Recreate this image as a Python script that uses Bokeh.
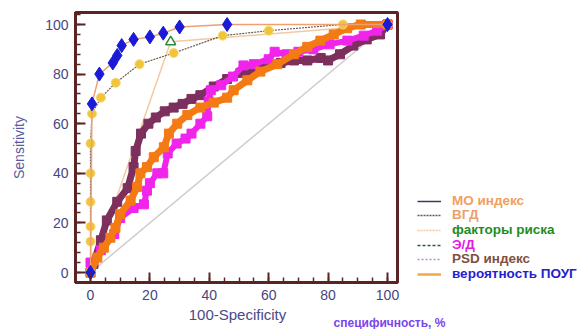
import math
from bokeh.plotting import figure
from bokeh.models import (Label, Legend, LegendItem, Range1d, SingleIntervalTicker, LinearAxis)
from bokeh.core.properties import value
from bokeh.embed import file_html
from bokeh.resources import INLINE

# ---- data ----
blue_x = [0, 0.5, 3, 7.5, 9, 10.5, 14.5, 20, 24.5, 30, 46, 100]
blue_y = [0, 68, 80, 84.5, 87.5, 91.5, 94, 95, 96.5, 99, 100, 100]

yellow_x = [0, 0, 0, 0, 0, 0, 0.5, 3.5, 8.5, 16.5, 28, 44.5, 60, 85, 100]
yellow_y = [0, 12.5, 18.5, 28.5, 40, 52, 64, 70.5, 76.5, 84, 88.5, 95.5, 97.5, 100, 100]

risk_x = [0, 27, 100]
risk_y = [0, 93, 100]

maroon_x = [0, 1, 3.5, 5.5, 9, 12.5, 14.5, 15.2, 17, 19.5, 22, 25, 28, 31, 34, 37,
            41.5, 46, 50.5, 55, 59.5, 64, 68.5, 73, 77.5, 80, 84, 88.5, 93, 97.5, 100]
maroon_y = [0, 3.5, 13, 21, 28.5, 34, 42.5, 49, 56, 60, 62.5, 65, 66.5, 68, 70, 71.5,
            75, 78, 80.5, 81, 84, 84.5, 85.5, 85.5, 86.5, 85.5, 88, 91.5, 94, 96, 100]

magenta_x = [0, 3.5, 8, 10, 14.5, 18, 19, 20, 22.5, 24.5, 26, 29, 32, 34, 37, 39.3, 39.8,
             40.5, 44, 48, 51.5, 55, 60, 62, 66, 70, 75, 80.5, 86.5, 92, 96.5, 100]
magenta_y = [4, 9, 15.5, 22, 26, 27.5, 33, 36, 40, 40, 48, 52, 54, 56, 60, 63, 69,
             73.5, 75.5, 79, 83.5, 84, 86, 89, 88, 89, 90, 92, 93.5, 95.5, 97.5, 100]

orange_x = [0, 2.3, 4.5, 6.7, 8.4, 10, 13.5, 15.7, 16.8, 19, 21.3, 24.7, 26.4, 29.2, 32.6,
            37, 41.5, 46, 48.2, 52.8, 57.2, 62.9, 68.5, 73, 77.4, 81.9, 86.4, 91, 100]
orange_y = [0, 6, 10, 14, 18, 23.5, 29, 34.5, 40, 42.5, 46.5, 50.5, 56, 60, 63.5,
            66.5, 68.5, 70.5, 73.5, 77.5, 81, 84, 88, 91, 93.5, 96, 98.5, 100, 100]

diag_x = [0, 100]
diag_y = [0, 100]

legend_labels = ["МО индекс", "ВГД", "факторы риска", "Э/Д", "PSD индекс", "вероятность ПОУГ"]
legend_text_colors = ["#f0a060", "#eca070", "#1e8c1e", "#e020e0", "#805040", "#2222d0"]

x_label = "100-Specificity"
y_label = "Sensitivity"
note_label = "специфичность, %"

# ---- geometry of the page ----
W, H = 581, 329
# data -> pixel mapping: x 0..100 at px 90..387, y 0..100 at px 272..24
XPX0, XPX1 = 90.0, 387.0
YPX0, YPX1 = 272.0, 24.0
sx = (XPX1 - XPX0) / 100.0
sy = (YPX0 - YPX1) / 100.0
xr = Range1d(-XPX0 / sx, (W - XPX0) / sx)
yr = Range1d(-(H - YPX0) / sy, YPX0 / sy)
# plot box (frame of the chart)
BOX_L = (75 - XPX0) / sx
BOX_R = (397 - XPX0) / sx
BOX_T = (YPX0 - 12) / sy
BOX_B = (YPX0 - 282) / sy

FRAME = "#5a2424"
p = figure(width=W, height=H, x_range=xr, y_range=yr,
           x_axis_location=None, y_axis_location=None,
           min_border=0, min_border_left=0, min_border_right=0,
           min_border_top=0, min_border_bottom=0,
           output_backend="svg", toolbar_location=None)
p.background_fill_color = "white"
p.border_fill_color = "white"
p.outline_line_alpha = 0
p.xgrid.visible = False
p.ygrid.visible = False

xaxis = LinearAxis(ticker=SingleIntervalTicker(interval=20, num_minor_ticks=4),
                   fixed_location=BOX_B, bounds=(BOX_L, BOX_R))
yaxis = LinearAxis(ticker=SingleIntervalTicker(interval=20, num_minor_ticks=5),
                   fixed_location=BOX_L, bounds=(BOX_B, BOX_T))
for ax in (xaxis, yaxis):
    ax.axis_line_color = FRAME
    ax.axis_line_width = 3
    ax.major_tick_line_color = FRAME
    ax.minor_tick_line_color = FRAME
    ax.major_tick_line_width = 2
    ax.minor_tick_line_width = 1.5
    ax.major_tick_in = 10
    ax.major_tick_out = 0
    ax.minor_tick_in = 5
    ax.minor_tick_out = 0
    ax.major_label_text_font = "Liberation Sans"
    ax.major_label_text_font_size = "14px"
    ax.major_label_text_color = "#464680"
    ax.major_label_standoff = 7
p.add_layout(xaxis, "below")
p.add_layout(yaxis, "left")

# chart box
p.quad(left=[BOX_L], right=[BOX_R], bottom=[BOX_B], top=[BOX_T], fill_alpha=0,
       line_color=FRAME, line_width=3)

# chance diagonal
p.line(diag_x, diag_y, line_color="#d2cccc", line_width=1.5)

# risk factors (single point)
p.line(risk_x, risk_y, line_color="#f3c9a2", line_width=1.5)

# thick ROC curves
p.line(maroon_x, maroon_y, line_color="#7d2f5e", line_width=7)
p.scatter(maroon_x, maroon_y, marker="square", size=9, color="#7d2f5e")
p.line(magenta_x, magenta_y, line_color="#f024ea", line_width=6)
p.scatter(magenta_x, magenta_y, marker="square", size=9, color="#f024ea")
p.line(orange_x, orange_y, line_color="#f47a14", line_width=7)
p.scatter(orange_x, orange_y, marker="square", size=9, color="#f47a14")

# yellow curve
p.line(yellow_x, yellow_y, line_color="#6a5a50", line_width=1.2, line_dash="2 1")
p.scatter(yellow_x, yellow_y, marker="circle", size=9, fill_color="#f2c43a",
          line_color="#f6d870", line_width=1)

# blue curve
p.line(blue_x, blue_y, line_color="#f0a070", line_width=1.5)
p.scatter(blue_x, blue_y, marker="diamond", size=14, color="#1a1ad8")

# triangle
p.scatter([risk_x[1]], [risk_y[1]], marker="triangle", size=10, fill_color="white",
          line_color="#2a8a3a", line_width=1.5)

# ---- legend samples (one legend per entry for individual colours) ----
sample_styles = [
    dict(line_color="#3a3a60", line_width=1.5),
    dict(line_color="#585858", line_width=1.5, line_dash="2 1"),
    dict(line_color="#f0c8a0", line_width=1.5, line_dash="2 1"),
    dict(line_color="#206030", line_width=1.5, line_dash="3 2"),
    dict(line_color="#b888d8", line_width=1.5, line_dash="2 2"),
    dict(line_color="#f0a848", line_width=2.5),
]
# legend-only renderers sit outside the visible range
off_x = [xr.start - 20, xr.start - 10]
off_y = [yr.start - 20, yr.start - 10]
item_y = [201, 215, 230, 245, 259, 274]  # page centre of each entry
for lbl, col, st, yc in zip(legend_labels, legend_text_colors, sample_styles, item_y):
    r = p.line(off_x, off_y, **st)
    leg = Legend(items=[LegendItem(label=value(lbl), renderers=[r])],
                 location=(417, H - yc - 7),
                 padding=0, margin=0, spacing=0,
                 border_line_alpha=0, background_fill_alpha=0,
                 glyph_width=24, glyph_height=12, label_height=14,
                 label_standoff=11,
                 label_text_font="Liberation Sans",
                 label_text_font_size="13.5px", label_text_font_style="bold",
                 label_text_color=col)
    p.add_layout(leg, "center")

# ---- texts ----
p.add_layout(Label(x=(237 - XPX0) / sx, y=(YPX0 - 314) / sy, text=x_label,
                   text_align="center", text_baseline="middle",
                   text_font="Liberation Sans", text_font_size="15px",
                   text_color="#4a4a88"))
p.add_layout(Label(x=(18 - XPX0) / sx, y=(YPX0 - 147) / sy, text=y_label,
                   angle=math.pi / 2, text_align="center",
                   text_baseline="middle", text_font="Liberation Sans",
                   text_font_size="14px", text_color="#5a5aa0"))
p.add_layout(Label(x=(389 - XPX0) / sx, y=(YPX0 - 322) / sy, text=note_label,
                   text_align="center", text_baseline="middle",
                   text_font="Liberation Sans",
                   text_font_size="12px", text_font_style="bold", text_color="#7a44ee"))

open("out.html", "w").write(file_html(p, INLINE))
